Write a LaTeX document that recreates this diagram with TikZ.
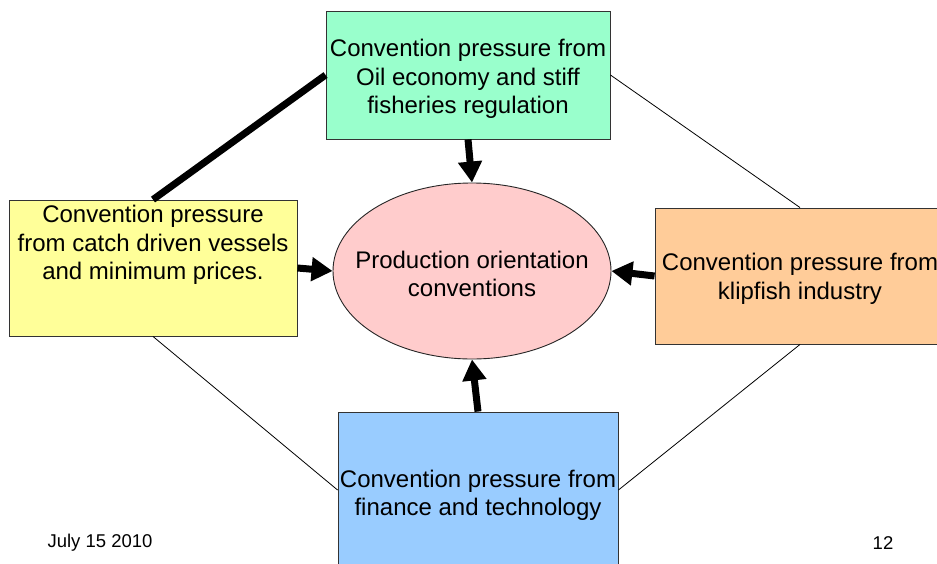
\documentclass[tikz,border=0pt]{standalone}
\usepackage{fontspec}
\setmainfont{Liberation Sans}
\usetikzlibrary{arrows.meta,shapes.geometric}
\definecolor{boxgreen}{HTML}{99FFCC}
\definecolor{boxyellow}{HTML}{FFFF99}
\definecolor{boxorange}{HTML}{FFCC99}
\definecolor{boxblue}{HTML}{99CCFF}
\definecolor{ovalpink}{HTML}{FFCCCC}
% invisible props that set the height of the first line and depth of the last
\newcommand{\firstline}[1][26pt]{\rule{0pt}{#1}}
\newcommand{\lastline}[1][5pt]{\rule[-#1]{0pt}{0pt}}
\tikzset{
  boxtext/.style={align=center, font=\fontsize{24}{28.5}\selectfont},
  pressurebox/.style={boxtext, draw=black!80, line width=0.9pt, rectangle, inner sep=0pt},
  centreoval/.style={draw=black!85, line width=0.9pt, ellipse, fill=ovalpink, inner sep=0pt},
  ovaltext/.style={boxtext, inner sep=0pt},
  pushes/.style={line width=7pt, -{Triangle[width=23pt 0, length=21pt 0]}},
  heavylink/.style={line width=7pt},
  lightlink/.style={line width=0.8pt},
  footer/.style={font=\fontsize{18.5}{22}\selectfont, inner sep=0pt}
}
\begin{document}
\begin{tikzpicture}[x=1pt, y=-1pt]
\useasboundingbox (0,0) rectangle (937,563);
\clip (0,0) rectangle (937,563);
\fill[white] (0,0) rectangle (937,563);

% outer boxes
\node[pressurebox, fill=boxgreen, minimum width=284pt, minimum height=128pt]
  (oil) at (468,75) {\firstline[25pt]Convention pressure from\\Oil economy and stiff\\fisheries regulation\lastline};
\node[pressurebox, fill=boxyellow, minimum width=288pt, minimum height=136pt]
  (catch) at (153,268) {\firstline[22pt]Convention pressure\\from catch driven vessels\\and minimum prices.\lastline[56pt]};
\node[pressurebox, fill=boxorange, minimum width=290pt, minimum height=136pt]
  (klip) at (800,276) {\firstline[23pt]Convention pressure from\\klipfish industry\lastline};
\node[pressurebox, fill=boxblue, minimum width=280pt, minimum height=156pt]
  (fin) at (478,490) {\firstline[28pt]Convention pressure from\\finance and technology\lastline};

% centre oval, its text set as a label so the shape keeps its own size
\node[centreoval, minimum width=278pt, minimum height=176pt,
  label={[ovaltext]center:\firstline[28pt]Production orientation\\conventions\lastline}]
  (prod) at (472,271) {};

% links between the outer boxes
\draw[heavylink] (oil.west) -- (catch.north);
\draw[lightlink] (oil.east) -- (klip.north);
\draw[lightlink] (catch.south) -- (fin.west);
\draw[lightlink] (klip.south) -- (fin.east);

% pressure arrows into the centre
\draw[pushes] (oil.south) -- (prod.north);
\draw[pushes] (catch.east) -- (prod.west);
\draw[pushes] (klip.west) -- (prod.east);
\draw[pushes] (fin.north) -- (prod.south);

% footer
\node[footer] (date) at (100,543) {July 15 2010};
\node[footer] (page) at (883,543) {12};
\end{tikzpicture}
\end{document}
